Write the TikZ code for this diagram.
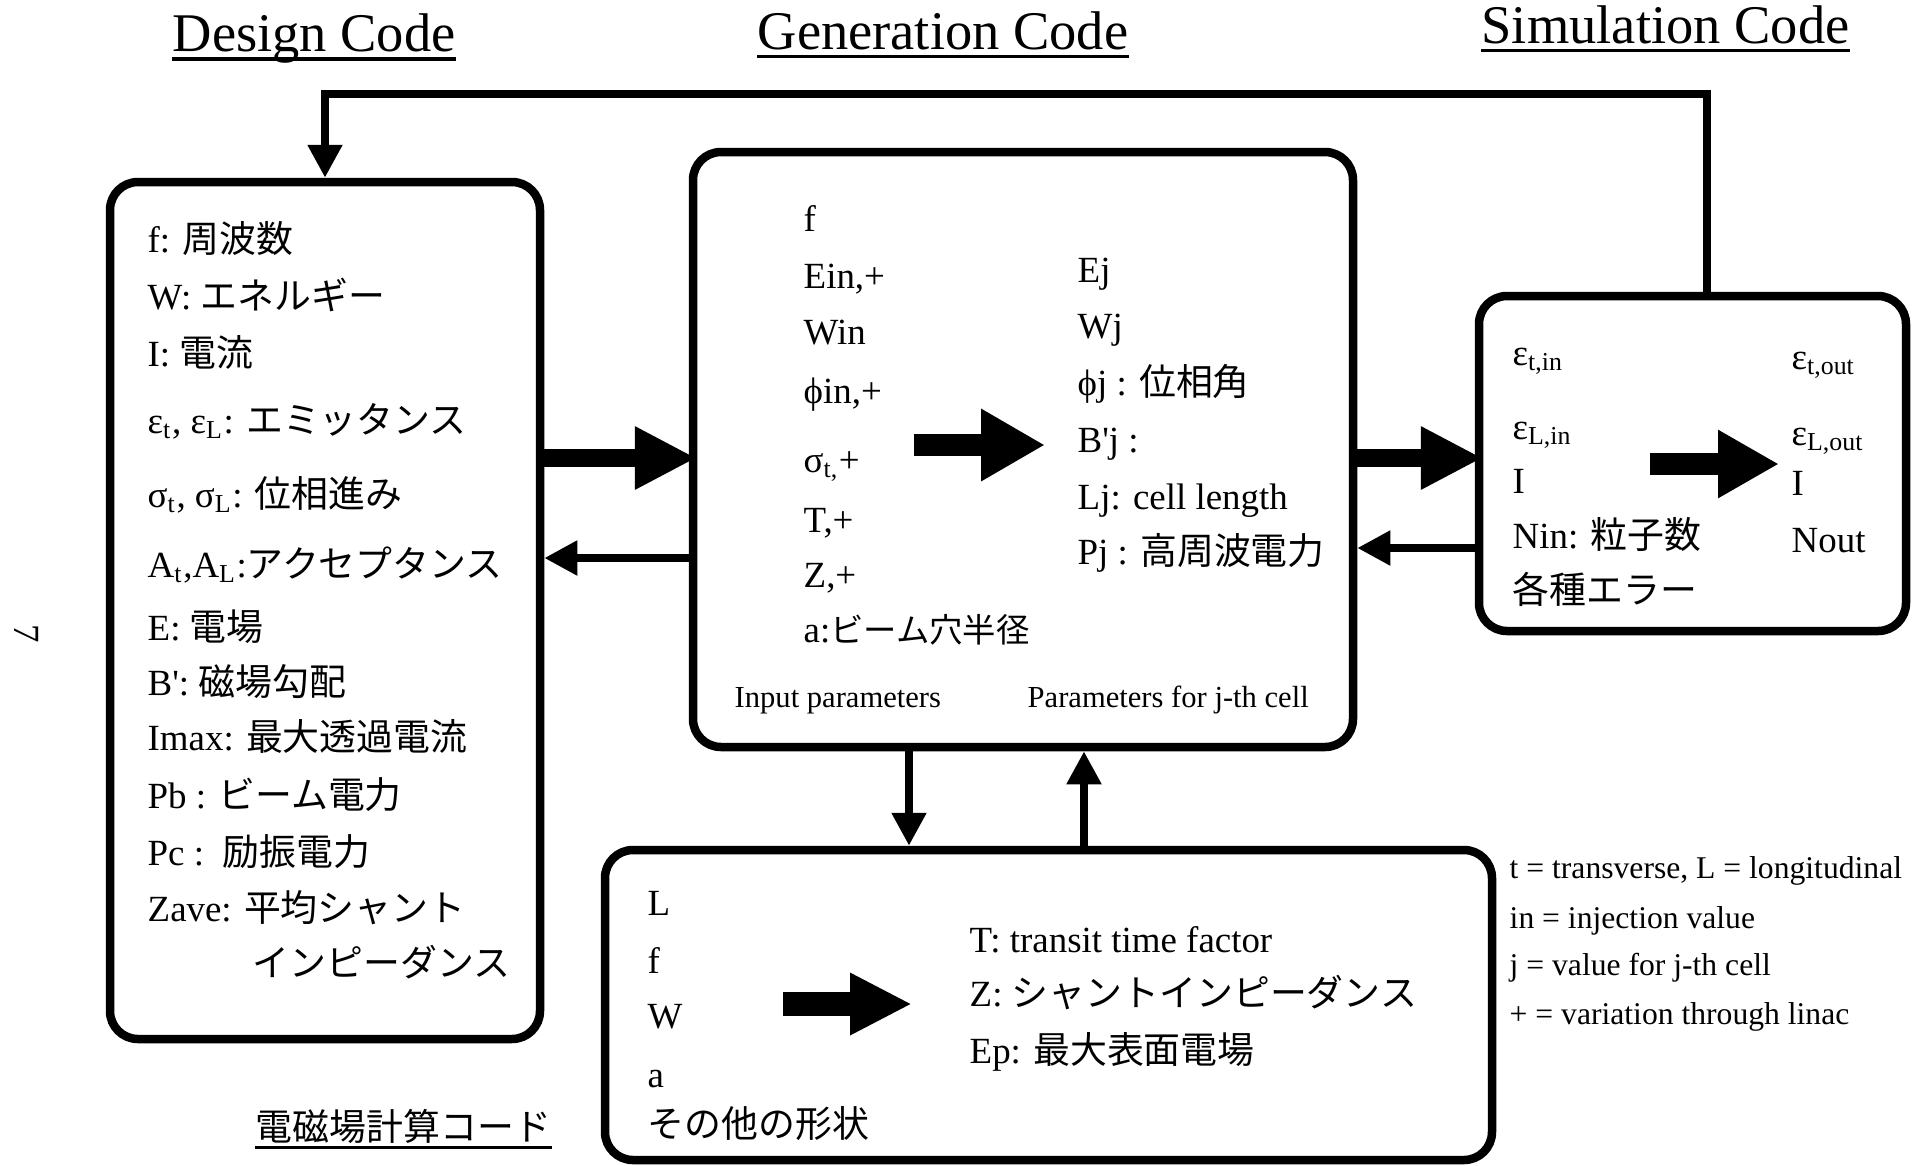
\documentclass[tikz,border=0pt]{standalone}
\usepackage{fontspec}
\setmainfont{Liberation Serif}
\newfontfamily\jpfont{Noto Sans CJK JP}
\newcommand{\ja}[1]{{\jpfont #1}}
\newcommand{\sq}{\textquotesingle}
\usetikzlibrary{arrows.meta}

\begin{document}
\begin{tikzpicture}[
    font=\fontsize{10.5}{12}\selectfont,
    box/.style={draw, line width=0.85mm, rounded corners=2.8mm, inner sep=0pt},
    txt/.style={anchor=base west, inner sep=0pt, yshift=-1.3mm},
    note/.style={anchor=base west, inner sep=0pt, yshift=-1.1mm, font=\fontsize{8.7}{10}\selectfont},
    legend/.style={anchor=base west, inner sep=0pt, yshift=-1.1mm, font=\fontsize{9}{11}\selectfont},
    title/.style={anchor=base west, inner sep=0pt, text depth=0.7mm, font=\fontsize{15.5}{18}\selectfont},
    uline/.style={line width=0.35mm},
    link/.style={line width=0.8mm, -{Triangle[length=3.3mm, width=3.3mm]}},
    fat/.style={line width=1.8mm, shorten >=-0.8mm, -{Triangle[length=6.2mm, width=5.9mm]}},
    block/.style={line width=2.2mm, -{Triangle[length=6.4mm, width=6.8mm]}},
  ]
  \useasboundingbox (0,0) rectangle (19.24,-11.65);

  % titles
  \node[title] (tdesign) at (1.72,-0.515) {Design Code};
  \node[title] (tgen) at (7.57,-0.49) {Generation Code};
  \node[title] (tsim) at (14.81,-0.43) {Simulation Code};
  \draw[uline] (tdesign.south west) -- (tdesign.south east);
  \draw[uline] (tgen.south west) -- (tgen.south east);
  \draw[uline] (tsim.south west) -- (tsim.south east);

  \node[rotate=-90, inner sep=0pt] (pagenum) at (0.27,-6.34) {7};

  % the four codes
  \node[box, minimum width=4.30cm, minimum height=8.57cm] (design) at (3.25,-6.105) {};
  \node[box, minimum width=6.60cm, minimum height=5.95cm] (gen) at (10.23,-4.495) {};
  \node[box, minimum width=4.27cm, minimum height=3.35cm] (sim) at (16.925,-4.635) {};
  \node[box, minimum width=8.87cm, minimum height=3.10cm] (emcalc) at (10.485,-10.05) {};

  % design code
  \node[txt] (d1) at (1.47,-2.39) {f: \ja{周波数}};
  \node[txt] (d2) at (1.47,-2.96) {W: \ja{エネルギー}};
  \node[txt] (d3) at (1.47,-3.53) {I: \ja{電流}};
  \node[txt] (d4) at (1.47,-4.20) {ε\textsubscript{t}, ε\textsubscript{L}: \ja{エミッタンス}};
  \node[txt] (d5) at (1.47,-4.94) {σ\textsubscript{t}, σ\textsubscript{L}: \ja{位相進み}};
  \node[txt] (d6) at (1.47,-5.64) {A\textsubscript{t},A\textsubscript{L}:\ja{アクセプタンス}};
  \node[txt] (d7) at (1.47,-6.27) {E: \ja{電場}};
  \node[txt] (d8) at (1.47,-6.82) {B\sq: \ja{磁場勾配}};
  \node[txt] (d9) at (1.47,-7.37) {Imax: \ja{最大透過電流}};
  \node[txt] (d10) at (1.47,-7.95) {Pb : \ja{ビーム電力}};
  \node[txt] (d11) at (1.47,-8.52) {Pc :\ \ \ja{励振電力}};
  \node[txt] (d12) at (1.47,-9.08) {Zave: \ja{平均シャント}};
  \node[txt] (d13) at (2.52,-9.63) {\ja{インピーダンス}};

  % generation code
  \node[txt] (g1) at (8.03,-2.18) {f};
  \node[txt] (g2) at (8.03,-2.75) {Ein,+};
  \node[txt] (g3) at (8.03,-3.31) {Win};
  \node[txt] (g4) at (8.03,-3.90) {ϕin,+};
  \node[txt] (g5) at (8.03,-4.59) {σ\textsubscript{t,}+};
  \node[txt] (g6) at (8.03,-5.19) {T,+};
  \node[txt] (g7) at (8.03,-5.74) {Z,+};
  \node[txt] (g8) at (8.03,-6.29) {a:{\fontsize{9.5}{11}\selectfont\ja{ビーム穴半径}}};
  \node[txt] (j1) at (10.77,-2.69) {Ej};
  \node[txt] (j2) at (10.77,-3.25) {Wj};
  \node[txt] (j3) at (10.77,-3.82) {ϕj : \ja{位相角}};
  \node[txt] (j4) at (10.77,-4.39) {B\sq j :};
  \node[txt] (j5) at (10.77,-4.96) {Lj: cell length};
  \node[txt] (j6) at (10.77,-5.51) {Pj : \ja{高周波電力}};
  \node[note] (ginput) at (7.34,-6.96) {Input parameters};
  \node[note] (gcell) at (10.27,-6.96) {Parameters for j-th cell};
  \coordinate (ga) at (9.14,-4.45);
  \coordinate (gb) at (10.45,-4.45);
  \draw[block] (ga) -- (gb);

  % simulation code
  \node[txt] (s1) at (15.12,-3.52) {ε\textsubscript{t,in}};
  \node[txt] (s2) at (15.12,-4.26) {ε\textsubscript{L,in}};
  \node[txt] (s3) at (15.12,-4.80) {I};
  \node[txt] (s4) at (15.12,-5.35) {Nin: \ja{粒子数}};
  \node[txt] (s5) at (15.12,-5.90) {\ja{各種エラー}};
  \node[txt] (o1) at (17.91,-3.56) {ε\textsubscript{t,out}};
  \node[txt] (o2) at (17.91,-4.32) {ε\textsubscript{L,out}};
  \node[txt] (o3) at (17.91,-4.82) {I};
  \node[txt] (o4) at (17.91,-5.39) {Nout};
  \coordinate (sa) at (16.50,-4.64);
  \coordinate (sb) at (17.79,-4.64);
  \draw[block, -{Triangle[length=6.1mm, width=6.4mm]}] (sa) -- (sb);

  % field calculation code
  \node[txt] (e1) at (6.47,-9.02) {L};
  \node[txt] (e2) at (6.47,-9.60) {f};
  \node[txt] (e3) at (6.47,-10.15) {W};
  \node[txt] (e4) at (6.47,-10.74) {a};
  \node[txt] (e5) at (6.47,-11.24) {\ja{その他の形状}};
  \node[txt] (e6) at (9.69,-9.39) {T: transit time factor};
  \node[txt] (e7) at (9.69,-9.93) {Z: \ja{シャントインピーダンス}};
  \node[txt] (e8) at (9.69,-10.50) {Ep: \ja{最大表面電場}};
  \coordinate (ea) at (7.83,-10.04);
  \coordinate (eb) at (9.12,-10.04);
  \draw[block, line width=2.4mm, -{Triangle[length=6.2mm, width=5.8mm]}] (ea) -- (eb);

  \node[title, font=\fontsize{10.5}{12}\selectfont] (temcalc) at (2.55,-11.40) {\ja{電磁場計算コード}};
  \draw[uline] (temcalc.south west) -- (temcalc.south east);

  % legend
  \node[legend] (l1) at (15.09,-8.67) {t = transverse, L = longitudinal};
  \node[legend] (l2) at (15.09,-9.17) {in = injection value};
  \node[legend] (l3) at (15.09,-9.64) {j = value for j-th cell};
  \node[legend] (l4) at (15.09,-10.13) {+ = variation through linac};

  % connections between the codes
  \draw[fat] (design.east |- 0,-4.58) -- (gen.west |- 0,-4.58);
  \draw[link] (gen.west |- 0,-5.58) -- (design.east |- 0,-5.58);
  \draw[fat] (gen.east |- 0,-4.58) -- (sim.west |- 0,-4.58);
  \draw[link] (sim.west |- 0,-5.48) -- (gen.east |- 0,-5.48);
  \draw[link] (gen.south -| 9.09,0) -- (emcalc.north -| 9.09,0);
  \draw[link] (emcalc.north -| 10.84,0) -- (gen.south -| 10.84,0);

  % feedback from simulation to design
  \coordinate (fbR) at (17.07,-0.94);
  \coordinate (fbL) at (3.25,-0.94);
  \draw[link] (sim.north -| fbR) -- (fbR) -- (fbL) -- (design.north -| fbL);
\end{tikzpicture}
\end{document}
